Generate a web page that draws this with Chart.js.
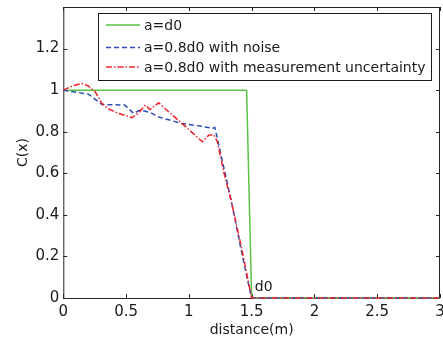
<!DOCTYPE html>
<html><head><meta charset="utf-8">
<script src="https://cdn.jsdelivr.net/npm/chart.js@4/dist/chart.umd.min.js"></script>
<style>html,body{margin:0;padding:0;background:#fff}#wrap{width:443px;height:342px;position:relative}</style>
</head><body><div id="wrap"><canvas id="c"></canvas></div>
<script>
const xTicks = [0, 0.5, 1, 1.5, 2, 2.5, 3];
const yTicks = [0, 0.2, 0.4, 0.6, 0.8, 1, 1.2];
const seriesNames = ['a=d0', 'a=0.8d0 with noise', 'a=0.8d0 with measurement uncertainty'];
const idealX = [0, 1.46, 1.5, 3];
const idealY = [1, 1, 0, 0];
const noiseX = [0, 0.2, 0.307, 0.49, 0.56, 0.61, 0.69, 0.76, 0.94, 1.09, 1.19, 1.206, 1.227, 1.27, 1.33, 1.41, 1.47, 1.5, 3];
const noiseY = [1, 0.981, 0.931, 0.928, 0.888, 0.904, 0.893, 0.871, 0.84, 0.827, 0.816, 0.821, 0.768, 0.65, 0.49, 0.25, 0.08, 0, 0];
const uncX = [0, 0.07, 0.147, 0.2, 0.254, 0.307, 0.36, 0.427, 0.547, 0.6, 0.654, 0.69, 0.76, 0.85, 0.96, 1.107, 1.16, 1.2, 1.227, 1.28, 1.34, 1.42, 1.5, 3];
const uncY = [1, 1.02, 1.032, 1.02, 0.992, 0.936, 0.91, 0.891, 0.867, 0.89, 0.928, 0.907, 0.939, 0.89, 0.832, 0.752, 0.784, 0.784, 0.752, 0.6, 0.46, 0.24, 0, 0];
const noteText = 'd0';
const noteX = 1.525, noteY = 0.053;

const colors = ['#57c443', '#2b4fb3', '#f2222c'];
const dashes = [[], [5, 3], [6, 2, 1.5, 2]];
const FONT = '"DejaVu Sans", sans-serif';

function pts(xs, ys) { return xs.map((x, i) => ({x: x, y: ys[i]})); }

const boxPlugin = {
  id: 'box',
  beforeDatasetsDraw(chart) {
    const {ctx, chartArea: a, scales} = chart;
    ctx.save();
    ctx.strokeStyle = '#262626';
    ctx.lineWidth = 1;
    ctx.strokeRect(a.left + 0.5, a.top + 0.5, a.right - a.left - 1, a.bottom - a.top);
    ctx.beginPath();
    const tl = 4;
    xTicks.forEach(v => {
      const px = Math.round(scales.x.getPixelForValue(v)) + 0.5;
      ctx.moveTo(px, a.bottom); ctx.lineTo(px, a.bottom - tl);
      ctx.moveTo(px, a.top); ctx.lineTo(px, a.top + tl);
    });
    yTicks.forEach(v => {
      const py = Math.round(scales.y.getPixelForValue(v)) + 0.5;
      ctx.moveTo(a.left, py); ctx.lineTo(a.left + tl, py);
      ctx.moveTo(a.right, py); ctx.lineTo(a.right - tl, py);
    });
    ctx.stroke();
    ctx.restore();
  },
  afterDraw(chart) {
    const {ctx, scales} = chart;
    ctx.save();
    ctx.fillStyle = '#1a1a1a';
    ctx.font = '14px ' + FONT;
    ctx.textBaseline = 'middle';
    ctx.textAlign = 'left';
    ctx.fillText(noteText, scales.x.getPixelForValue(noteX), scales.y.getPixelForValue(noteY));
    const lx = 98.5, ly = 13.5, lw = 333, lh = 67;
    ctx.fillStyle = '#fff';
    ctx.fillRect(lx, ly, lw, lh);
    ctx.strokeStyle = '#1a1a1a';
    ctx.lineWidth = 1;
    ctx.strokeRect(lx, ly, lw, lh);
    const rows = [25, 47.5, 67];
    seriesNames.forEach((n, i) => {
      ctx.strokeStyle = colors[i];
      ctx.lineWidth = 1.5;
      ctx.setLineDash(dashes[i]);
      ctx.beginPath();
      ctx.moveTo(106, rows[i]); ctx.lineTo(140, rows[i]);
      ctx.stroke();
      ctx.setLineDash([]);
      ctx.fillStyle = '#1a1a1a';
      ctx.font = '14px ' + FONT;
      ctx.textBaseline = 'middle';
      ctx.fillText(n, 144, rows[i] + 1);
    });
    ctx.restore();
  }
};

const fmt = v => String(Math.round(v * 10) / 10);

new Chart(document.getElementById('c'), {
  type: 'line',
  data: {
    datasets: [
      {label: seriesNames[0], data: pts(idealX, idealY), borderColor: colors[0], borderWidth: 1.5, borderDash: dashes[0], order: 3},
      {label: seriesNames[1], data: pts(noiseX, noiseY), borderColor: colors[1], borderWidth: 1.5, borderDash: dashes[1], order: 2},
      {label: seriesNames[2], data: pts(uncX, uncY), borderColor: colors[2], borderWidth: 1.5, borderDash: dashes[2], order: 1}
    ]
  },
  options: {
    responsive: true,
    maintainAspectRatio: false,
    animation: false,
    devicePixelRatio: 1,
    layout: {autoPadding: false, padding: {top: 7, right: 3, left: 0, bottom: 0}},
    elements: {point: {radius: 0}, line: {tension: 0, fill: false}},
    datasets: {line: {clip: 4}},
    plugins: {legend: {display: false}, tooltip: {enabled: false}},
    scales: {
      x: {
        type: 'linear', min: 0, max: 3,
        afterBuildTicks: s => { s.ticks = xTicks.map(v => ({value: v})); },
        afterFit: s => { s.height = 44; s.paddingLeft = 0; s.paddingRight = 0; s.paddingTop = 0; s.paddingBottom = 0; },
        grid: {display: false, drawTicks: false},
        border: {display: false},
        ticks: {padding: 5, color: '#1a1a1a', font: {family: FONT, size: 15}, maxRotation: 0, callback: v => fmt(v)},
        title: {display: true, text: 'distance(m)', color: '#1a1a1a', font: {family: FONT, size: 14}, padding: {top: 0, bottom: 3}}
      },
      y: {
        type: 'linear', min: 0, max: 1.4,
        afterBuildTicks: s => { s.ticks = yTicks.map(v => ({value: v})); },
        afterFit: s => { s.width = 63.3; s.paddingLeft = 0; s.paddingRight = 0; s.paddingTop = 0; s.paddingBottom = 0; },
        grid: {display: false, drawTicks: false},
        border: {display: false},
        ticks: {padding: 4, color: '#1a1a1a', font: {family: FONT, size: 15}, callback: v => fmt(v)},
        title: {display: true, text: 'C(x)', color: '#1a1a1a', font: {family: FONT, size: 14}, padding: {top: 15, bottom: 0}}
      }
    }
  },
  plugins: [boxPlugin]
});
</script></body></html>
